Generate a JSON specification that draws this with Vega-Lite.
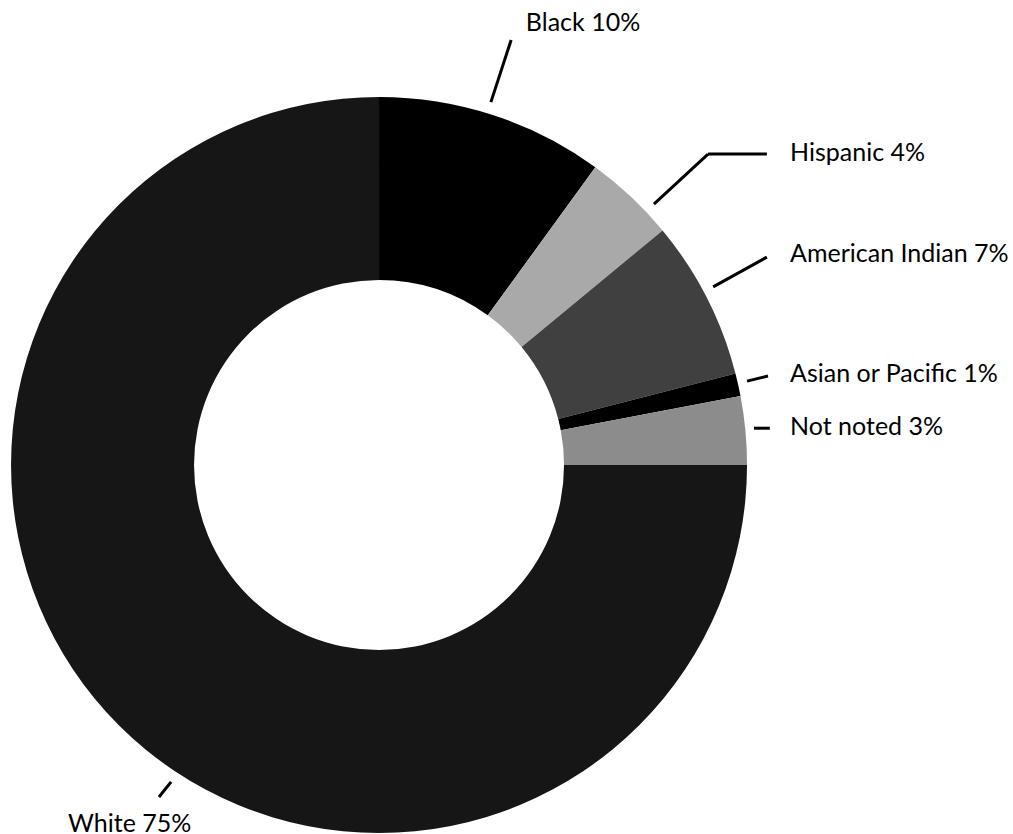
{
  "$schema": "https://vega.github.io/schema/vega-lite/v6.json",
  "width": 1013,
  "height": 834,
  "padding": 0,
  "autosize": {"type": "none"},
  "background": "white",
  "config": {"view": {"stroke": null}},
  "datasets": {
    "slices": [
      {"group": "Black", "pct": 10, "order": 1},
      {"group": "Hispanic", "pct": 4, "order": 2},
      {"group": "American Indian", "pct": 7, "order": 3},
      {"group": "Asian or Pacific", "pct": 1, "order": 4},
      {"group": "Not noted", "pct": 3, "order": 5},
      {"group": "White", "pct": 75, "order": 6}
    ],
    "leaders": [
      {"group": "Black", "x1": 30.4, "y1": 98.6, "x2": 35.9, "y2": 115.5},
      {"group": "Hispanic", "x1": 74.7, "y1": 70.9, "x2": 89.4, "y2": 84.5},
      {"group": "Hispanic", "x1": 89.4, "y1": 84.5, "x2": 105.4, "y2": 84.5},
      {"group": "American Indian", "x1": 90.8, "y1": 48.4, "x2": 105.4, "y2": 56.5},
      {"group": "Asian or Pacific", "x1": 100.0, "y1": 22.8, "x2": 105.7, "y2": 24.2},
      {"group": "Not noted", "x1": 101.9, "y1": 10.0, "x2": 106.2, "y2": 10.0},
      {"group": "White", "x1": -59.8, "y1": -90.2, "x2": -56.5, "y2": -86.1}
    ],
    "labels": [
      {"label": "Black 10%", "lx": 39.9, "ly": 117.9},
      {"label": "Hispanic 4%", "lx": 111.7, "ly": 82.6},
      {"label": "American Indian 7%", "lx": 111.7, "ly": 55.2},
      {"label": "Asian or Pacific 1%", "lx": 111.7, "ly": 22.5},
      {"label": "Not noted 3%", "lx": 111.7, "ly": 8.1},
      {"label": "White 75%", "lx": -84.5, "ly": -99.7}
    ]
  },
  "layer": [
    {
      "data": {"name": "slices"},
      "mark": {"type": "arc", "outerRadius": 368, "innerRadius": 185},
      "encoding": {
        "x": {"datum": 0, "type": "quantitative", "scale": {"domain": [-103, 172.28], "nice": false, "zero": false}, "axis": null},
        "y": {"datum": 0, "type": "quantitative", "scale": {"domain": [-100.27, 126.36], "nice": false, "zero": false}, "axis": null},
        "theta": {"field": "pct", "type": "quantitative", "stack": true},
        "order": {"field": "order"},
        "color": {
          "field": "group",
          "type": "nominal",
          "scale": {
            "domain": ["Black", "Hispanic", "American Indian", "Asian or Pacific", "Not noted", "White"],
            "range": ["#000000", "#a9a9a9", "#404040", "#000000", "#8c8c8c", "#161616"]
          },
          "legend": null
        }
      }
    },
    {
      "data": {"name": "leaders"},
      "mark": {"type": "rule", "strokeWidth": 3, "color": "black"},
      "encoding": {
        "x": {"field": "x1", "type": "quantitative"},
        "y": {"field": "y1", "type": "quantitative"},
        "x2": {"field": "x2"},
        "y2": {"field": "y2"}
      }
    },
    {
      "data": {"name": "labels"},
      "mark": {"type": "text", "align": "left", "baseline": "alphabetic", "fontSize": 25, "font": "Lato", "color": "black"},
      "encoding": {
        "x": {"field": "lx", "type": "quantitative"},
        "y": {"field": "ly", "type": "quantitative"},
        "text": {"field": "label"}
      }
    }
  ]
}
